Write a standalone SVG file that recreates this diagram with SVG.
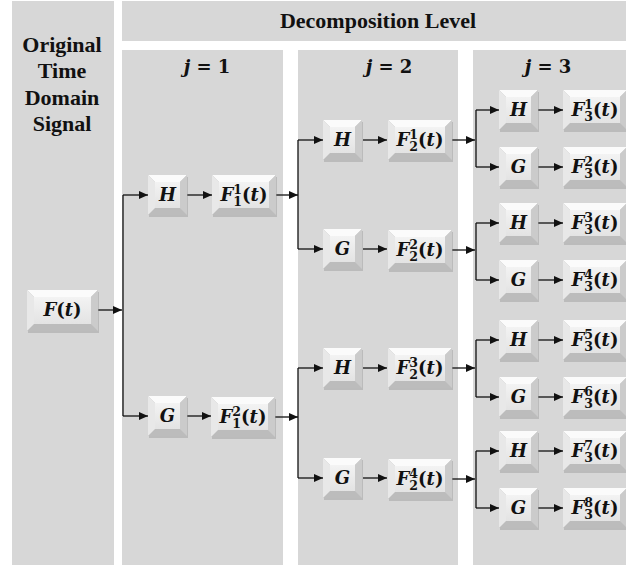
<svg xmlns="http://www.w3.org/2000/svg" xmlns:xlink="http://www.w3.org/1999/xlink" width="626" height="569" viewBox="0 0 626 569">
<style>
.panel{fill:#d7d7d7}
.hd{font-family:"Liberation Serif","Times New Roman",serif;font-weight:bold;fill:#111;text-anchor:middle;font-size:22px}
.m{font-family:"DejaVu Serif",serif;font-weight:bold;fill:#111;text-anchor:middle;font-size:18px}
.i{font-style:italic}
.s{font-size:12.5px}
.c{fill:none;stroke:#111;stroke-width:1.3}
.a{marker-end:url(#ar)}
</style>
<defs>
<marker id="ar" markerUnits="userSpaceOnUse" markerWidth="9" markerHeight="8" refX="9" refY="4" orient="auto"><path d="M0,0 L9,4 L0,8 z" fill="#111"/></marker>
<linearGradient id="face" x1="0" y1="0" x2="0" y2="1"><stop offset="0" stop-color="#f3f3f3"/><stop offset="1" stop-color="#e3e3e3"/></linearGradient>
<g id="boxS">
<rect x="1" y="2" width="39" height="40" fill="#9a9a9a" opacity="0.45"/>
<rect width="39" height="40" fill="#bcbcbc"/>
<polygon points="0,0 39,0 32,7 7,7" fill="#fbfbfb"/>
<polygon points="0,0 7,7 7,33 0,40" fill="#e8e8e8"/>
<polygon points="39,0 39,40 32,33 32,7" fill="#cbcbcb"/>
<rect x="7" y="7" width="25" height="26" fill="url(#face)"/>
</g>
<g id="boxW">
<rect x="1" y="2" width="64" height="40" fill="#9a9a9a" opacity="0.45"/>
<rect width="64" height="40" fill="#bcbcbc"/>
<polygon points="0,0 64,0 57,7 7,7" fill="#fbfbfb"/>
<polygon points="0,0 7,7 7,33 0,40" fill="#e8e8e8"/>
<polygon points="64,0 64,40 57,33 57,7" fill="#cbcbcb"/>
<rect x="7" y="7" width="50" height="26" fill="url(#face)"/>
</g>
<g id="boxF">
<rect x="1" y="2" width="71" height="41" fill="#9a9a9a" opacity="0.45"/>
<rect width="71" height="41" fill="#bcbcbc"/>
<polygon points="0,0 71,0 64,7 7,7" fill="#fbfbfb"/>
<polygon points="0,0 7,7 7,34 0,41" fill="#e8e8e8"/>
<polygon points="71,0 71,41 64,34 64,7" fill="#cbcbcb"/>
<rect x="7" y="7" width="57" height="27" fill="url(#face)"/>
</g>
</defs>
<rect width="626" height="569" fill="#fff"/>
<g id="panels">
<rect class="panel" x="12" y="1" width="102" height="564"/>
<rect class="panel" x="122" y="1" width="504" height="40"/>
<rect class="panel" x="122" y="50" width="161" height="515"/>
<rect class="panel" x="298" y="50" width="160" height="515"/>
<rect class="panel" x="473" y="50" width="153" height="515"/>
</g>
<g id="labels">
<text class="hd" x="378" y="28">Decomposition Level</text>
<text class="hd" x="62" y="52">Original</text>
<text class="hd" x="62" y="78">Time</text>
<text class="hd" x="62" y="105">Domain</text>
<text class="hd" x="62" y="131">Signal</text>
<text class="m" x="207" y="73"><tspan class="i">j</tspan> = 1</text>
<text class="m" x="389" y="73"><tspan class="i">j</tspan> = 2</text>
<text class="m" x="548" y="73"><tspan class="i">j</tspan> = 3</text>
</g>
<g id="connectors">
<path class="c a" d="M98,310 H122"/>
<path class="c" d="M123,195 V416"/>
<path class="c a" d="M123,195 H148"/>
<path class="c a" d="M123,416 H148"/>
<path class="c a" d="M187,195 H212"/>
<path class="c a" d="M187,416 H211"/>
<path class="c a" d="M276,195 H298"/>
<path class="c a" d="M275,417 H298"/>
<path class="c" d="M298,140 V249"/>
<path class="c" d="M298,368 V478"/>
<path class="c a" d="M298,140 H323"/>
<path class="c a" d="M298,249 H323"/>
<path class="c a" d="M298,368 H323"/>
<path class="c a" d="M298,478 H323"/>
<path class="c a" d="M363,140 H387"/>
<path class="c a" d="M363,249 H387"/>
<path class="c a" d="M363,368 H387"/>
<path class="c a" d="M363,478 H387"/>
<path class="c a" d="M452,140 H475"/>
<path class="c a" d="M452,250 H475"/>
<path class="c a" d="M452,368 H475"/>
<path class="c a" d="M452,479 H475"/>
<path class="c" d="M476,110 V167 M476,223 V280 M476,340 V397 M476,451 V508"/>
<path class="c a" d="M476,110 H499"/>
<path class="c a" d="M476,167 H499"/>
<path class="c a" d="M476,223 H499"/>
<path class="c a" d="M476,280 H499"/>
<path class="c a" d="M476,340 H499"/>
<path class="c a" d="M476,397 H499"/>
<path class="c a" d="M476,451 H499"/>
<path class="c a" d="M476,508 H499"/>
<path class="c a" d="M538,110 H563"/>
<path class="c a" d="M538,167 H563"/>
<path class="c a" d="M538,223 H563"/>
<path class="c a" d="M538,280 H563"/>
<path class="c a" d="M538,340 H563"/>
<path class="c a" d="M538,397 H563"/>
<path class="c a" d="M538,451 H563"/>
<path class="c a" d="M538,508 H563"/>
</g>
<g id="n_F"><use xlink:href="#boxF" x="27" y="290"/><text class="m" x="62.5" y="316"><tspan class="i">F</tspan>(<tspan class="i">t</tspan>)</text></g>
<g id="n_H1"><use xlink:href="#boxS" x="148" y="175"/><text class="m i" x="167.5" y="201">H</text></g>
<g id="n_F11"><use xlink:href="#boxW" x="212" y="175"/><text class="m" x="244" y="201"><tspan class="i">F</tspan><tspan class="s" dy="-7">1</tspan><tspan class="s" dx="-8.7" dy="12">1</tspan><tspan dy="-5">(</tspan><tspan class="i">t</tspan>)</text></g>
<g id="n_G1"><use xlink:href="#boxS" x="148" y="396"/><text class="m i" x="167.5" y="422">G</text></g>
<g id="n_F12"><use xlink:href="#boxW" x="211" y="397"/><text class="m" x="243" y="423"><tspan class="i">F</tspan><tspan class="s" dy="-7">2</tspan><tspan class="s" dx="-8.7" dy="12">1</tspan><tspan dy="-5">(</tspan><tspan class="i">t</tspan>)</text></g>
<g id="n_H21"><use xlink:href="#boxS" x="323" y="120"/><text class="m i" x="342.5" y="146">H</text></g>
<g id="n_F21"><use xlink:href="#boxW" x="388" y="120"/><text class="m" x="420" y="146"><tspan class="i">F</tspan><tspan class="s" dy="-7">1</tspan><tspan class="s" dx="-8.7" dy="12">2</tspan><tspan dy="-5">(</tspan><tspan class="i">t</tspan>)</text></g>
<g id="n_G21"><use xlink:href="#boxS" x="323" y="229"/><text class="m i" x="342.5" y="255">G</text></g>
<g id="n_F22"><use xlink:href="#boxW" x="388" y="230"/><text class="m" x="420" y="256"><tspan class="i">F</tspan><tspan class="s" dy="-7">2</tspan><tspan class="s" dx="-8.7" dy="12">2</tspan><tspan dy="-5">(</tspan><tspan class="i">t</tspan>)</text></g>
<g id="n_H22"><use xlink:href="#boxS" x="323" y="348"/><text class="m i" x="342.5" y="374">H</text></g>
<g id="n_F23"><use xlink:href="#boxW" x="388" y="348"/><text class="m" x="420" y="374"><tspan class="i">F</tspan><tspan class="s" dy="-7">3</tspan><tspan class="s" dx="-8.7" dy="12">2</tspan><tspan dy="-5">(</tspan><tspan class="i">t</tspan>)</text></g>
<g id="n_G22"><use xlink:href="#boxS" x="323" y="458"/><text class="m i" x="342.5" y="484">G</text></g>
<g id="n_F24"><use xlink:href="#boxW" x="388" y="459"/><text class="m" x="420" y="485"><tspan class="i">F</tspan><tspan class="s" dy="-7">4</tspan><tspan class="s" dx="-8.7" dy="12">2</tspan><tspan dy="-5">(</tspan><tspan class="i">t</tspan>)</text></g>
<g id="n_H31"><use xlink:href="#boxS" x="499" y="90"/><text class="m i" x="518.5" y="116">H</text></g>
<g id="n_F31"><use xlink:href="#boxW" x="563" y="90"/><text class="m" x="595" y="116"><tspan class="i">F</tspan><tspan class="s" dy="-7">1</tspan><tspan class="s" dx="-8.7" dy="12">3</tspan><tspan dy="-5">(</tspan><tspan class="i">t</tspan>)</text></g>
<g id="n_G31"><use xlink:href="#boxS" x="499" y="147"/><text class="m i" x="518.5" y="173">G</text></g>
<g id="n_F32"><use xlink:href="#boxW" x="563" y="147"/><text class="m" x="595" y="173"><tspan class="i">F</tspan><tspan class="s" dy="-7">2</tspan><tspan class="s" dx="-8.7" dy="12">3</tspan><tspan dy="-5">(</tspan><tspan class="i">t</tspan>)</text></g>
<g id="n_H32"><use xlink:href="#boxS" x="499" y="203"/><text class="m i" x="518.5" y="229">H</text></g>
<g id="n_F33"><use xlink:href="#boxW" x="563" y="203"/><text class="m" x="595" y="229"><tspan class="i">F</tspan><tspan class="s" dy="-7">3</tspan><tspan class="s" dx="-8.7" dy="12">3</tspan><tspan dy="-5">(</tspan><tspan class="i">t</tspan>)</text></g>
<g id="n_G32"><use xlink:href="#boxS" x="499" y="260"/><text class="m i" x="518.5" y="286">G</text></g>
<g id="n_F34"><use xlink:href="#boxW" x="563" y="260"/><text class="m" x="595" y="286"><tspan class="i">F</tspan><tspan class="s" dy="-7">4</tspan><tspan class="s" dx="-8.7" dy="12">3</tspan><tspan dy="-5">(</tspan><tspan class="i">t</tspan>)</text></g>
<g id="n_H33"><use xlink:href="#boxS" x="499" y="320"/><text class="m i" x="518.5" y="346">H</text></g>
<g id="n_F35"><use xlink:href="#boxW" x="563" y="320"/><text class="m" x="595" y="346"><tspan class="i">F</tspan><tspan class="s" dy="-7">5</tspan><tspan class="s" dx="-8.7" dy="12">3</tspan><tspan dy="-5">(</tspan><tspan class="i">t</tspan>)</text></g>
<g id="n_G33"><use xlink:href="#boxS" x="499" y="377"/><text class="m i" x="518.5" y="403">G</text></g>
<g id="n_F36"><use xlink:href="#boxW" x="563" y="377"/><text class="m" x="595" y="403"><tspan class="i">F</tspan><tspan class="s" dy="-7">6</tspan><tspan class="s" dx="-8.7" dy="12">3</tspan><tspan dy="-5">(</tspan><tspan class="i">t</tspan>)</text></g>
<g id="n_H34"><use xlink:href="#boxS" x="499" y="431"/><text class="m i" x="518.5" y="457">H</text></g>
<g id="n_F37"><use xlink:href="#boxW" x="563" y="431"/><text class="m" x="595" y="457"><tspan class="i">F</tspan><tspan class="s" dy="-7">7</tspan><tspan class="s" dx="-8.7" dy="12">3</tspan><tspan dy="-5">(</tspan><tspan class="i">t</tspan>)</text></g>
<g id="n_G34"><use xlink:href="#boxS" x="499" y="488"/><text class="m i" x="518.5" y="514">G</text></g>
<g id="n_F38"><use xlink:href="#boxW" x="563" y="488"/><text class="m" x="595" y="514"><tspan class="i">F</tspan><tspan class="s" dy="-7">8</tspan><tspan class="s" dx="-8.7" dy="12">3</tspan><tspan dy="-5">(</tspan><tspan class="i">t</tspan>)</text></g>
</svg>
